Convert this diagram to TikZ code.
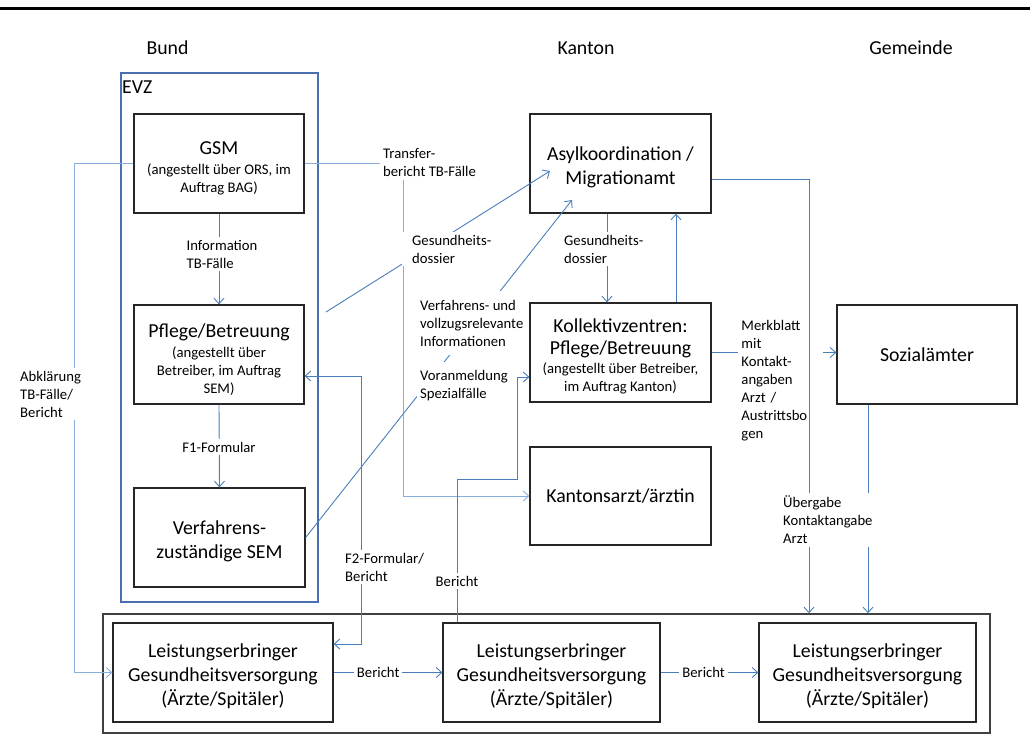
\documentclass[tikz,border=0pt]{standalone}
\usepackage{fontspec}
\setmainfont{Carlito}
\usetikzlibrary{arrows.meta,calc}
\newcommand\sfnt{\fontsize{14.7}{18}\selectfont}
\newcommand\tfnt{\fontsize{19.8}{24}\selectfont}
\newcommand\tstrut[1]{\rule{0pt}{#1}}
\definecolor{lineblue}{HTML}{4A7EBB}
\definecolor{lightblue}{HTML}{8AAEDC}
\definecolor{evzblue}{HTML}{4A6FB0}
\begin{document}
\begin{tikzpicture}[x=1pt,y=-1pt,
  box/.style={draw=black!85, line width=1.3pt, align=center, inner sep=2pt, font=\sfnt},
  conn/.style={draw=lineblue, line width=0.9pt, -{Straight Barb[length=5.5pt,width=10pt]}},
  connl/.style={conn, draw=lightblue},
  lbl/.style={fill=white, font=\sfnt, align=left, inner sep=3pt},
  hdr/.style={font=\tfnt}]
\useasboundingbox (0,0) rectangle (1030,742);
\draw[line width=3pt] (0,8) -- (1030,8);

% headers
\node[hdr] (bund) at (167.5,48) {Bund};
\node[hdr] (kanton) at (586,48) {Kanton};
\node[hdr] (gemeinde) at (911,48) {Gemeinde};

% EVZ frame
\node[draw=evzblue, line width=1.2pt, minimum width=197pt, minimum height=529pt, inner sep=0pt] (evz) at (219.5,337.5) {};
\node[hdr, anchor=west, inner sep=2pt] (evzl) at (120,87) {EVZ};

% bottom frame
\node[draw=black!75, line width=1.5pt, minimum width=887pt, minimum height=119pt, inner sep=0pt] (outer) at (546.5,673.5) {};

% boxes
\node[box, minimum width=170pt, minimum height=99pt] (gsm) at (219,163.5)
  {{\tfnt\tstrut{23pt}GSM}\\[2pt](angestellt über ORS, im\\Auftrag BAG)};
\node[box, minimum width=170pt, minimum height=99pt] (pflege) at (219,354.5)
  {{\tfnt\tstrut{25pt}Pflege/Betreuung}\\[2pt](angestellt über\\Betreiber, im Auftrag\\SEM)};
\node[box, minimum width=171pt, minimum height=99pt, font=\tfnt] (sem) at (219.5,537.5)
  {\tstrut{22pt}Verfahrens-\\zuständige SEM};
\node[box, minimum width=181pt, minimum height=99pt, font=\tfnt] (asyl) at (620.5,163.5)
  {\tstrut{22pt}Asylkoordination /\\Migrationamt};
\node[box, minimum width=181pt, minimum height=99pt] (koll) at (620.5,352.5)
  {{\tfnt\tstrut{22pt}Kollektivzentren:}\\[4pt]{\tfnt Pflege/Betreuung}\\[1pt](angestellt über Betreiber,\\im Auftrag Kanton)};
\node[box, minimum width=181pt, minimum height=98pt, font=\tfnt] (kanton) at (620.5,496)
  {Kantonsarzt/ärztin};
\node[box, minimum width=180pt, minimum height=99pt, font=\tfnt] (sozial) at (927,354.5)
  {Sozialämter};
\node[box, minimum width=220pt, minimum height=99pt, font=\tfnt] (l1) at (223,672.5)
  {\tstrut{22pt}Leistungserbringer\\Gesundheitsversorgung\\(Ärzte/Spitäler)};
\node[box, minimum width=217pt, minimum height=99pt, font=\tfnt] (l2) at (551.5,672.5)
  {\tstrut{22pt}Leistungserbringer\\Gesundheitsversorgung\\(Ärzte/Spitäler)};
\node[box, minimum width=217pt, minimum height=99pt, font=\tfnt] (l3) at (867.5,672.5)
  {\tstrut{22pt}Leistungserbringer\\Gesundheitsversorgung\\(Ärzte/Spitäler)};

% connectors
\draw[connl] (gsm.west) -| ($(l1.west)+(-38,0)$) -- (l1.west);
\draw[connl] (gsm.east) -| ($(kanton.west)+(-126,0)$) -- (kanton.west);
\draw[conn] (gsm.south) -- (pflege.north);
\draw[conn] (pflege.south) -- (sem.north);
\coordinate (gdS) at (326,312);
\coordinate (gdE) at (550,171);
\draw[conn] (gdS) -- (gdE);
\coordinate (vfE) at (572,200);
\draw[conn] (sem.east) -- (vfE);
\draw[conn, {Straight Barb[length=5.5pt,width=10pt]}-{Straight Barb[length=5.5pt,width=10pt]}]
  ($(pflege.east)+(0,21.5)$) -| ($(l1.east)+(28,-28.5)$) -- ($(l1.east)+(0,-28.5)$);
\draw[conn] ($(asyl.south)+(-13.5,0)$) -- ($(koll.north)+(-13.5,0)$);
\draw[conn] ($(koll.north)+(55.5,0)$) -- ($(asyl.south)+(55.5,0)$);
\draw[conn] ($(l2.north)+(-94.5,0)$) -- ++(0,-143) -| ($(koll.west)+(-12,24.5)$) -- ($(koll.west)+(0,24.5)$);
\draw[conn] (koll.east) -- (koll.east -| sozial.west)
  node[lbl, anchor=west, text width=79pt] (merk) at (738,381)
  {Merkblatt\\mit\\Kontakt-\\angaben\\Arzt /\\Austrittsbo\\gen};
\draw[conn] ($(asyl.east)+(0,15.5)$) -| ($(outer.north)+(262.5,0)$);
\draw[conn] ($(sozial.south)+(-59,0)$) -- ($(outer.north)+(321.5,0)$);
\draw[conn] (l1.east) -- node[lbl, pos=.41] (b1) {Bericht} (l2.west);
\draw[conn] (l2.east) -- node[lbl, pos=.44] (b2) {Bericht} (l3.west);

% labels
\node[lbl, anchor=west] (abkl) at (17,394) {Abklärung\\TB-Fälle/\\Bericht};
\node[lbl, anchor=west] (transfer) at (380,163) {Transfer-\\bericht TB-Fälle};
\node[lbl, anchor=west, inner xsep=10pt] (gd1) at (402,249) {Gesundheits-\\dossier};
\node[lbl] (info) at (222,254) {Information\\TB-Fälle};
\node[lbl] (f1) at (219,447) {F1-Formular};
\node[lbl, anchor=west, inner ysep=9pt] (vfinfo) at (417,323) {Verfahrens- und\\vollzugsrelevante\\Informationen};
\node[lbl, anchor=west, inner ysep=9pt] (vorm) at (417,386) {Voranmeldung\\Spezialfälle};
\node[lbl, anchor=west] (f2) at (342,567) {F2-Formular/\\Bericht};
\node[lbl] (b3) at (457,581) {Bericht};
\node[lbl, anchor=west] (gd2) at (561,249) {Gesundheits-\\dossier};
\node[lbl, anchor=west] (ueber) at (780,520) {Übergabe\\Kontaktangabe\\Arzt};
\end{tikzpicture}
\end{document}
